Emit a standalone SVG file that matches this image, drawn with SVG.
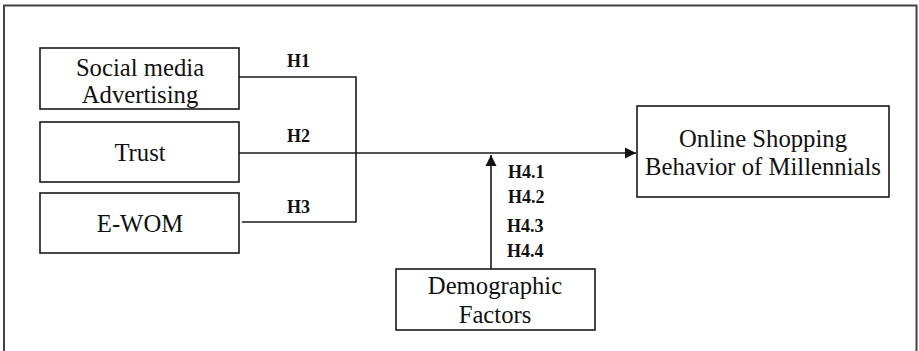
<svg xmlns="http://www.w3.org/2000/svg" width="919" height="351" viewBox="0 0 919 351" font-family="'Liberation Serif', 'Times New Roman', Tinos, 'DejaVu Serif', serif">
<style>
.box{fill:#fff;stroke:#1a1a1a;stroke-width:1.6}
.t{font-size:24.7px;fill:#111;text-anchor:middle}
.h{font-size:18px;font-weight:bold;fill:#111}
.ln{fill:none;stroke:#1a1a1a;stroke-width:1.6}
</style>
<defs>
<marker id="ah" viewBox="0 0 10 10" refX="10" refY="5" markerWidth="7" markerHeight="7" markerUnits="strokeWidth" orient="auto">
<path d="M0,0 L10,5 L0,10 z" fill="#111"/>
</marker>
</defs>
<rect width="919" height="351" fill="#fff"/>
<path d="M4,360 L4,5.5 L916.5,5.5 L916.5,360" fill="none" stroke="#444" stroke-width="2"/>
<g id="connectors">
<path class="ln" d="M239,77 L356,77 L356,222 L242,222"/>
<path class="ln" d="M239,153 L636,153" marker-end="url(#ah)"/>
<path class="ln" d="M491,269 L491,155" marker-end="url(#ah)"/>
<text class="h" x="287" y="67">H1</text>
<text class="h" x="287" y="142">H2</text>
<text class="h" x="287" y="213">H3</text>
<text class="h" x="508" y="178">H4.1</text>
<text class="h" x="508" y="203">H4.2</text>
<text class="h" x="507" y="232">H4.3</text>
<text class="h" x="507" y="257">H4.4</text>
</g>
<g id="social">
<rect class="box" x="40" y="48" width="199" height="61"/>
<text class="t" x="140" y="76">Social media</text>
<text class="t" x="140" y="103">Advertising</text>
</g>
<g id="trust">
<rect class="box" x="40" y="122" width="199" height="60"/>
<text class="t" x="140" y="161">Trust</text>
</g>
<g id="ewom">
<rect class="box" x="40" y="193" width="199" height="60"/>
<text class="t" x="140" y="232">E-WOM</text>
</g>
<g id="online">
<rect class="box" x="637" y="106" width="252" height="91"/>
<text class="t" x="763" y="147">Online Shopping</text>
<text class="t" x="763" y="175">Behavior of Millennials</text>
</g>
<g id="demographic">
<rect class="box" x="396" y="269" width="199" height="61"/>
<text class="t" x="495" y="294">Demographic</text>
<text class="t" x="495" y="323">Factors</text>
</g>
</svg>
